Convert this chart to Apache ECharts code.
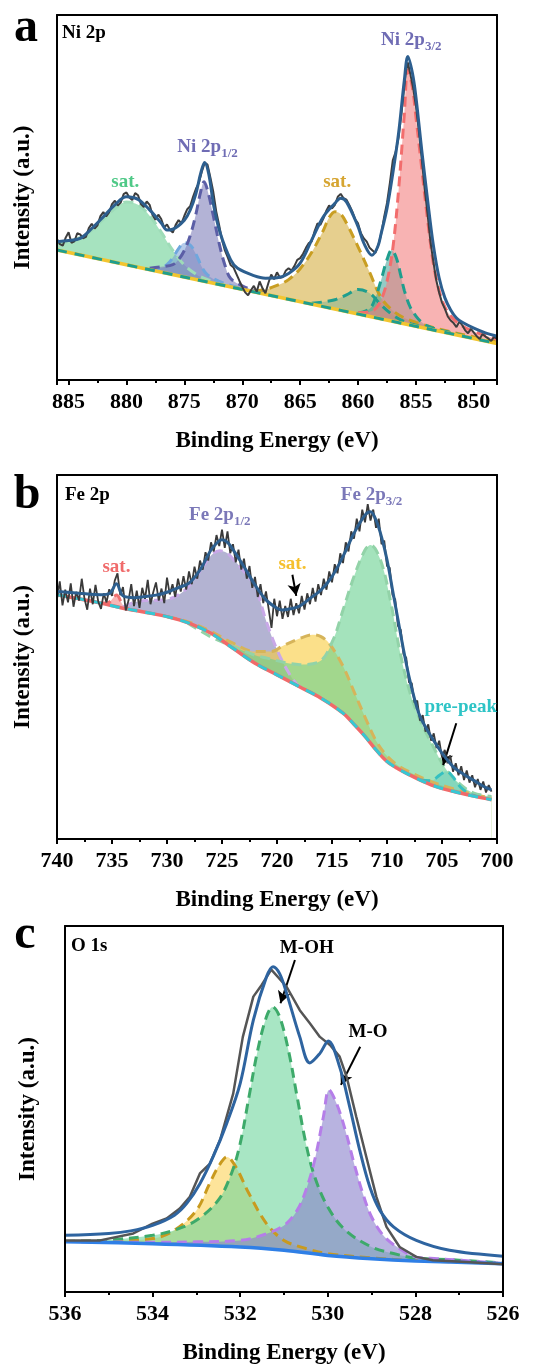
<!DOCTYPE html>
<html>
<head>
<meta charset="utf-8">
<script src="https://cdn.jsdelivr.net/npm/echarts@6/dist/echarts.min.js"></script>
<style>
  html, body { margin: 0; padding: 0; background: #fff; }
  #main { width: 538px; height: 1369px; }
</style>
</head>
<body>
<div id="main"></div>
<script>
var FONT = '"Liberation Serif", "Times New Roman", serif';

// ---------- a: Ni 2p ----------
var niBg = [[886, 35.6], [848, 10.0]];
var niSatGreen = [[886,37.4],[885,38.0],[884,39.0],[883,41.0],[882,44.0],[881,47.0],[880,48.8],[879,48.0],[878,45.0],[877,40.5],[876,35.5],[875,31.5],[874,29.0],[873,27.5],[872,26.5],[871,25.6],[870,24.9]];
var niBlue = [[878,30.3],[877,30.6],[876.5,31.6],[876,33.5],[875.5,36.0],[875,37.6],[874.5,37.0],[874,34.5],[873.5,31.0],[873,28.8],[872,27.0],[871,25.9],[870,25.0]];
var niP12 = [[878,30.6],[877,31.0],[876,31.6],[875.5,33.0],[875,35.5],[874.5,39.5],[874,45.5],[873.6,51.5],[873.3,54.3],[873,52.0],[872.5,45.0],[872,37.5],[871.5,31.5],[871,27.8],[870,25.8],[869,24.6],[868,23.8]];
var niSatGold = [[869,24.3],[868,24.8],[867,25.9],[866,27.5],[865,30.5],[864,35.0],[863,41.0],[862.5,44.5],[862,46.1],[861.5,45.5],[861,43.0],[860,36.5],[859,29.5],[858,22.5],[857,19.0],[856,17.0],[855,15.8],[854,14.8],[852,13.2],[850,11.8],[848,10.4]];
var niTealSmall = [[864,21.0],[863,21.4],[862,22.0],[861,23.3],[860,24.8],[859,23.8],[858,20.5],[857,17.8],[856,16.0],[855,15.0],[854,14.2]];
var niTeal = [[860,18.3],[859,19.5],[858.5,22.5],[858,27.5],[857.5,33.0],[857.1,35.6],[856.7,33.5],[856.3,28.5],[856,24.5],[855.5,20.0],[855,17.5],[854.5,15.8],[854,14.8],[853,13.7],[852,13.0],[851,12.2]];
var niP32 = [[860,18.4],[859,18.7],[858.5,19.5],[858,22.0],[857.5,27.0],[857,36.0],[856.5,52.0],[856,73.0],[855.7,85.0],[855.3,80.0],[855,72.0],[854.5,58.0],[854,44.0],[853.5,32.0],[853,24.5],[852.5,20.0],[852,17.5],[851,14.8],[850,13.3],[849,12.2],[848,11.2]];
var niEnv = [[886,37.9],[885,38.2],[884,38.8],[883,41.5],[882,44.7],[881,48.0],[880,50.2],[879,49.5],[878,46.6],[877,43.0],[876.5,41.1],[876,41.3],[875,43.8],[874.5,46.5],[874,51.1],[873.6,56.5],[873.25,59.6],[872.9,56.5],[872.45,47.5],[871.9,40.2],[871,32.9],[870.4,30.6],[869,28.6],[868,27.9],[867,28.0],[866,29.2],[865,32.0],[864,38.4],[863,44.7],[862,48.4],[861.5,49.8],[861,48.8],[860,42.0],[859.5,37.5],[858.8,34.2],[858.3,36.5],[858,40.2],[857.5,47.0],[857,56.6],[856.5,67.6],[856,82.2],[855.7,88.6],[855.3,84.0],[855,77.5],[854.5,63.0],[854,49.5],[853.5,37.0],[853,28.0],[852.5,22.5],[852,19.2],[851.5,17.0],[851,15.8],[850,14.2],[849,12.9],[848,12.0]];
var niRaw = [[886,38.6],[885.75,37.2],[885.5,36.8],[885.25,39.0],[885,40.5],[884.75,37.6],[884.5,38.0],[884.25,40.2],[884,39.9],[883.75,38.8],[883.5,39.2],[883.25,41.6],[883,42.8],[882.75,41.5],[882.5,42.4],[882.25,44.9],[882,46.0],[881.75,44.8],[881.5,45.9],[881.25,48.2],[881,49.1],[880.75,47.8],[880.5,48.6],[880.25,50.9],[880,51.4],[879.75,50.0],[879.5,49.3],[879.25,51.2],[879,50.6],[878.75,48.2],[878.5,47.4],[878.25,48.9],[878,48.0],[877.75,45.2],[877.5,43.9],[877.25,45.3],[877,44.1],[876.75,41.8],[876.5,42.6],[876.25,41.2],[876,40.4],[875.75,42.5],[875.5,43.8],[875.25,42.9],[875,45.0],[874.75,46.8],[874.5,47.6],[874.25,50.2],[874,52.4],[873.75,54.0],[873.5,57.0],[873.25,59.5],[873,59.0],[872.75,55.4],[872.5,51.5],[872.25,46.2],[872,42.5],[871.75,38.4],[871.5,35.5],[871.25,33.6],[871,31.5],[870.75,30.8],[870.5,29.0],[870.25,27.2],[870,25.5],[869.75,24.0],[869.5,23.2],[869.25,24.6],[869,25.8],[868.75,24.2],[868.5,27.0],[868.25,25.1],[868,23.8],[867.75,26.5],[867.5,28.9],[867.25,27.6],[867,29.5],[866.75,28.0],[866.5,28.2],[866.25,29.9],[866,30.6],[865.75,30.0],[865.5,31.2],[865.25,32.9],[865,33.4],[864.75,34.6],[864.5,36.2],[864.25,37.5],[864,38.0],[863.75,40.8],[863.5,42.9],[863.25,42.5],[863,44.2],[862.75,46.3],[862.5,47.8],[862.25,47.0],[862,48.0],[861.75,50.2],[861.5,51.0],[861.25,49.8],[861,49.4],[860.75,47.9],[860.5,46.2],[860.25,44.0],[860,42.9],[859.75,40.2],[859.5,38.8],[859.25,37.9],[859,36.2],[858.75,35.5],[858.5,34.8],[858.25,37.0],[858,40.0],[857.75,44.6],[857.5,48.5],[857.25,54.0],[857,60.2],[856.75,62.5],[856.5,66.5],[856.25,73.0],[856,80.5],[855.85,84.8],[855.7,87.0],[855.5,84.0],[855.25,80.2],[855,75.0],[854.75,68.2],[854.5,60.5],[854.25,52.5],[854,45.5],[853.75,38.0],[853.5,32.5],[853.25,27.4],[853,24.0],[852.75,21.2],[852.5,19.5],[852.25,17.4],[852,16.3],[851.75,15.6],[851.5,14.5],[851.25,16.0],[851,15.0],[850.75,13.6],[850.5,12.8],[850.25,14.0],[850,13.0],[849.75,12.0],[849.5,11.2],[849.25,12.6],[849,11.9],[848.75,11.4],[848.5,10.7],[848.25,11.8],[848,11.3]];

// ---------- b: Fe 2p ----------
var feBg = [[740,67.1],[738,66.0],[736,64.8],[734,63.4],[732,62.3],[730,61.1],[728,59.3],[726,56.5],[724,52.4],[722,48.3],[720,45.1],[718,41.9],[716,38.7],[714,34.6],[713,31.5],[712,28.2],[711,24.5],[710,21.3],[709,19.3],[708,17.7],[706,14.9],[704,13.1],[702,11.7],[700.5,10.8]];
var feSatRed = [[736,64.8],[735.3,65.0],[734.6,67.0],[734,64.2],[733.5,63.1]];
var feP12 = [[734,63.8],[733,65.0],[732,65.5],[731,65.6],[730,65.8],[729,67.0],[728.2,68.9],[727,73.5],[726,77.9],[725.2,79.2],[724.5,78.5],[724,76.9],[723,73.5],[722,69.5],[721,60.0],[720,52.0],[719,46.0],[718.2,42.5],[717.5,41.2]];
var feSatYellow = [[730,61.1],[728,59.6],[726,57.0],[724,53.8],[722,51.5],[720.5,51.5],[719.5,53.0],[718,55.0],[716.8,56.1],[716,55.6],[715.2,53.5],[714,47.5],[713,40.5],[712,33.5],[711,27.0],[710,22.8],[709,20.2],[708,18.5],[706,15.8],[704,13.8],[702,12.2],[700.5,11.2]];
var feP32 = [[728.1,59.3],[726,55.5],[724,52.9],[722,50.5],[720.9,49.7],[719,48.3],[717.9,47.9],[716.1,48.8],[714.9,54.7],[714,62.9],[713,72.1],[712,79.4],[711.5,80.8],[710.6,76.7],[709.7,65.7],[708.8,51.1],[707.9,40.1],[707,32.8],[705.8,25.4],[704.6,19.0],[703.3,14.9],[702.1,12.6],[700.5,11.7]];
var fePre = [[707,16.2],[706,16.0],[705.2,17.6],[704.6,18.6],[704,17.0],[703.3,14.2],[702.5,12.4],[701.5,11.5]];
var feEnv = [[740,68.0],[738,67.5],[736,67.1],[735.2,67.5],[734.6,70.1],[734,66.8],[733,66.3],[732,66.6],[731,67.0],[730,67.8],[729,69.0],[728,70.3],[727,73.9],[726,79.4],[725.3,81.8],[725,82.2],[724.5,81.5],[724,79.5],[723,74.8],[722,69.8],[721,65.7],[720,63.4],[719.5,62.9],[719,63.1],[718,63.9],[717,66.1],[716,68.4],[715,72.1],[714,77.6],[713,84.0],[712,89.0],[711.5,89.9],[711,87.6],[710.5,83.0],[710,76.7],[709.5,68.5],[709,60.2],[708.5,52.0],[708,44.6],[707.5,38.5],[707,33.7],[706,28.2],[705,23.6],[704,19.9],[703,17.7],[702,15.9],[701,14.1],[700.5,13.5]];
var feRaw = [[740,66.0],[739.75,70.8],[739.5,64.2],[739.25,68.5],[739,65.0],[738.75,70.2],[738.5,63.8],[738.25,67.9],[738,65.5],[737.75,71.5],[737.5,66.0],[737.25,63.0],[737,68.8],[736.75,64.5],[736.5,69.8],[736.25,65.2],[736,63.2],[735.75,67.5],[735.5,65.0],[735.25,68.6],[735,66.8],[734.75,71.0],[734.5,73.0],[734.25,67.0],[734,69.2],[733.75,62.8],[733.5,65.5],[733.25,70.0],[733,64.0],[732.75,68.2],[732.5,63.5],[732.25,69.0],[732,66.0],[731.75,71.2],[731.5,64.5],[731.25,67.8],[731,70.5],[730.75,65.5],[730.5,68.8],[730.25,64.8],[730,71.8],[729.75,67.2],[729.5,70.0],[729.25,66.5],[729,71.5],[728.75,68.0],[728.5,72.2],[728.25,68.5],[728,73.5],[727.75,70.0],[727.5,74.8],[727.25,71.5],[727,76.5],[726.75,74.0],[726.5,78.8],[726.25,76.5],[726,81.5],[725.75,79.0],[725.5,83.5],[725.25,80.5],[725,85.0],[724.75,80.0],[724.5,84.5],[724.25,78.5],[724,81.0],[723.75,76.0],[723.5,79.5],[723.25,74.0],[723,77.0],[722.75,71.5],[722.5,75.0],[722.25,69.0],[722,72.0],[721.75,66.5],[721.5,70.0],[721.25,64.8],[721,68.0],[720.75,63.0],[720.5,58.0],[720.25,66.0],[720,61.2],[719.75,65.5],[719.5,60.5],[719.25,64.0],[719,61.0],[718.75,66.0],[718.5,61.5],[718.25,64.8],[718,62.0],[717.75,66.8],[717.5,63.0],[717.25,67.5],[717,64.5],[716.75,69.0],[716.5,65.2],[716.25,70.0],[716,67.0],[715.75,71.5],[715.5,68.5],[715.25,73.5],[715,70.5],[714.75,75.5],[714.5,73.0],[714.25,78.5],[714,75.8],[713.75,81.5],[713.5,79.0],[713.25,84.5],[713,82.5],[712.75,88.0],[712.5,84.5],[712.25,90.5],[712,87.0],[711.75,92.0],[711.5,87.5],[711.25,90.5],[711,85.5],[710.75,88.0],[710.5,81.0],[710.25,82.0],[710,75.0],[709.75,74.5],[709.5,67.0],[709.25,65.8],[709,58.5],[708.75,57.5],[708.5,50.8],[708.25,49.8],[708,43.0],[707.75,42.8],[707.5,37.5],[707.25,38.0],[707,32.5],[706.75,34.0],[706.5,29.5],[706.25,31.5],[706,27.0],[705.75,29.0],[705.5,25.0],[705.25,27.0],[705,22.5],[704.75,24.5],[704.5,20.8],[704.25,23.0],[704,18.5],[703.75,20.8],[703.5,17.5],[703.25,20.0],[703,16.2],[702.75,18.8],[702.5,15.5],[702.25,17.5],[702,14.2],[701.75,16.5],[701.5,13.5],[701.25,15.8],[701,12.8],[700.75,14.8],[700.5,13.0]];

// ---------- c: O 1s ----------
var oBg = [[536,13.7],[534,13.2],[532,12.3],[531,11.4],[530,10.0],[529,9.1],[528,8.5],[526,7.7]];
var oYellow = [[536,13.8],[535,14.0],[534,14.6],[533.5,16.9],[533,22.3],[532.7,29.6],[532.5,34.2],[532.3,36.9],[532.1,34.2],[531.8,26.9],[531.4,18.7],[531,14.1],[530.5,11.9],[530,10.5],[529,9.3],[528,8.6],[526,7.8]];
var oGreen = [[536,13.8],[535,14.2],[534,15.5],[533.5,16.9],[533,19.6],[532.5,25.1],[532.2,32.4],[532,40.6],[531.8,53.3],[531.6,66.1],[531.4,75.2],[531.26,77.9],[531.1,75.2],[530.9,66.1],[530.7,53.3],[530.5,40.6],[530.3,31.5],[530,23.2],[529.6,16.9],[529,12.3],[528.5,10.5],[528,9.3],[527,8.7],[526,7.9]];
var oPurple = [[536,13.8],[534,13.6],[533,13.7],[532,14.1],[531.5,15.5],[531,18.2],[530.7,22.3],[530.5,27.8],[530.3,36.0],[530.1,47.9],[529.97,55.2],[529.8,51.5],[529.6,44.2],[529.4,35.1],[529.2,26.9],[529,20.5],[528.7,15.0],[528.3,11.4],[528,9.6],[527.5,9.1],[527,8.7],[526,7.8]];
var oEnv = [[536,15.5],[535,16.0],[534.5,16.7],[534,18.2],[533.5,21.0],[533.22,24.2],[532.92,29.6],[532.62,36.9],[532.31,46.0],[532.0,57.0],[531.7,74.3],[531.4,86.1],[531.25,88.9],[531.1,87.0],[530.94,81.6],[530.64,69.7],[530.41,62.6],[530.18,65.2],[529.99,68.6],[529.73,61.5],[529.5,50.6],[529.27,38.7],[529.04,28.7],[528.81,22.3],[528.5,17.8],[527.98,14.1],[527.22,11.4],[526,9.8]];
var oRaw = [[536,14.1],[535.2,14.1],[534.44,16.0],[534.0,18.7],[533.68,20.1],[533.38,22.8],[533.15,26.0],[532.92,32.4],[532.69,35.1],[532.46,41.5],[532.16,54.2],[531.94,69.7],[531.7,80.7],[531.51,83.9],[531.29,88.1],[530.94,83.4],[530.64,77.0],[530.41,73.4],[530.18,69.7],[529.95,67.5],[529.73,64.3],[529.57,58.8],[529.35,47.9],[529.12,36.9],[528.89,26.0],[528.66,17.8],[528.36,12.3],[527.98,9.6],[527.6,8.7],[526.84,8.2],[526,7.6]];

var panels = [
  { grid: { left: 57, top: 15, width: 440, height: 365 }, range: [848, 886], step: 5, hideEnds: true, nameGap: 22,
    bg: niBg, bgSmooth: false, bgColor: '#f2c530', bgDash: '#1f9e8e',
    comps: [
      [niSatGreen, 'rgba(107,208,148,0.6)', '#9edcb8'],
      [niBlue, 'rgba(120,160,215,0.55)', '#6fa7dd'],
      [niP12, 'rgba(128,128,187,0.6)', '#5b5ea6'],
      [niSatGold, 'rgba(213,175,67,0.6)', '#c99e22'],
      [niTealSmall, 'rgba(60,160,150,0.3)', '#1f9e8e'],
      [niTeal, 'rgba(60,160,150,0.55)', '#1f9e8e'],
      [niP32, 'rgba(243,128,128,0.6)', '#f26d6d']
    ],
    raw: niRaw, rawColor: '#3d3d3d', rawWidth: 2, env: niEnv, envColor: '#2d5f8f',
    arrows: [],
    notes: [
      { t: 'sat.', at: [880.1, 54.2], c: '#4fc987' },
      { t: 'Ni 2p', s: '1/2', at: [873.0, 63.9], c: '#6f6cb4' },
      { t: 'sat.', at: [861.8, 54.3], c: '#d6a531' },
      { t: 'Ni 2p', s: '3/2', at: [855.4, 93.2], c: '#6f6cb4' }
    ] },
  { grid: { left: 57, top: 475, width: 440, height: 364 }, range: [700, 740], step: 5, hideEnds: false, nameGap: 22,
    bg: feBg, bgSmooth: true, bgColor: '#f06a6a', bgDash: '#35c8d4',
    comps: [
      [feSatRed, 'rgba(240,110,110,0.5)', '#f07070'],
      [feP12, 'rgba(128,128,180,0.6)', '#c9a8e8'],
      [feSatYellow, 'rgba(248,204,60,0.6)', '#d6b45a'],
      [feP32, 'rgba(103,208,144,0.6)', '#92d3a8'],
      [fePre, 'rgba(60,190,190,0.3)', '#35c0c0']
    ],
    raw: feRaw, rawColor: '#3a3a3a', rawWidth: 1.8, env: feEnv, envColor: '#2d5f8f',
    arrows: [[[718.6, 72.6], [718.25, 66.8]], [[703.7, 31.8], [704.9, 20.3]]],
    notes: [
      { t: 'sat.', at: [734.6, 74.8], c: '#f06b6b' },
      { t: 'Fe 2p', s: '1/2', at: [725.2, 89.0], c: '#7b78b8' },
      { t: 'sat.', at: [718.6, 75.5], c: '#f5c02e' },
      { t: 'Fe 2p', s: '3/2', at: [711.4, 94.5], c: '#7b78b8' },
      { t: 'pre-peak', at: [703.3, 36.3], c: '#2ec4c6' }
    ] },
  { grid: { left: 65, top: 926, width: 438, height: 366 }, range: [526, 536], step: 2, hideEnds: false, nameGap: 25,
    bg: oBg, bgSmooth: true, bgColor: '#2f7fe6', bgDash: null,
    comps: [
      [oYellow, 'rgba(252,210,87,0.6)', '#c99a1e'],
      [oGreen, 'rgba(110,214,157,0.6)', '#3daa6a'],
      [oPurple, 'rgba(137,128,203,0.6)', '#b57ee8']
    ],
    raw: oRaw, rawColor: '#555555', rawWidth: 2.5, env: oEnv, envColor: '#2e64a0',
    arrows: [[[530.75, 90.7], [531.08, 78.9]], [[529.26, 67.0], [529.7, 56.6]]],
    notes: [
      { t: 'M-OH', at: [530.48, 93.9], c: '#000' },
      { t: 'M-O', at: [529.08, 71.1], c: '#000' }
    ] }
];

var grids = [], xAxes = [], yAxes = [], series = [];
var boldText = { fontFamily: FONT, fontWeight: 'bold', color: '#000' };

panels.forEach(function (p, g) {
  grids.push(p.grid);
  var frame = { show: true, onZero: false, lineStyle: { color: '#000', width: 2 } };
  xAxes.push({
    gridIndex: g, type: 'value', min: p.range[0], max: p.range[1], inverse: true,
    minInterval: p.step, maxInterval: p.step, splitNumber: 8, z: 10,
    axisLine: frame,
    axisTick: { show: true, inside: false, length: 5, lineStyle: { color: '#000', width: 2 } },
    minorTick: { show: true, splitNumber: 2, length: 3, lineStyle: { color: '#000', width: 2 } },
    axisLabel: Object.assign({ fontSize: 22, margin: 11, showMinLabel: !p.hideEnds, showMaxLabel: !p.hideEnds }, boldText),
    splitLine: { show: false },
    name: 'Binding Energy (eV)', nameLocation: 'middle', nameGap: 50,
    nameTextStyle: Object.assign({ fontSize: 23 }, boldText)
  });
  xAxes.push({
    gridIndex: g, type: 'value', position: 'top', min: p.range[0], max: p.range[1], inverse: true, z: 10,
    axisLine: frame, axisTick: { show: false }, axisLabel: { show: false }, splitLine: { show: false }
  });
  yAxes.push({
    gridIndex: g, type: 'value', min: 0, max: 100, z: 10,
    axisLine: frame, axisTick: { show: false }, axisLabel: { show: false }, splitLine: { show: false },
    name: 'Intensity (a.u.)', nameLocation: 'middle', nameGap: p.nameGap,
    nameTextStyle: Object.assign({ fontSize: 23 }, boldText)
  });
  yAxes.push({
    gridIndex: g, type: 'value', position: 'right', min: 0, max: 100, z: 10,
    axisLine: frame, axisTick: { show: false }, axisLabel: { show: false }, splitLine: { show: false }
  });

  var ax = { xAxisIndex: 2 * g, yAxisIndex: 2 * g, symbol: 'none', silent: true };
  function line(extra) { return Object.assign({ type: 'line' }, ax, extra); }

  // component fills
  p.comps.forEach(function (c) {
    series.push(line({ data: c[0], smooth: 0.35, z: 2, lineStyle: { width: 0 }, areaStyle: { color: c[1], opacity: 1 } }));
  });
  // white mask below the background line
  series.push(line({ data: p.bg, smooth: p.bgSmooth ? 0.35 : false, z: 3, lineStyle: { width: 0 }, areaStyle: { color: '#fff', opacity: 1 } }));
  // dashed component edges
  p.comps.forEach(function (c) {
    series.push(line({ data: c[0], smooth: 0.35, z: 4, lineStyle: { color: c[2], width: 3, type: [10, 6] } }));
  });
  // background
  series.push(line({ data: p.bg, smooth: p.bgSmooth ? 0.35 : false, z: 5, lineStyle: { color: p.bgColor, width: 3.5 } }));
  if (p.bgDash) {
    series.push(line({ data: p.bg, smooth: p.bgSmooth ? 0.35 : false, z: 5, lineStyle: { color: p.bgDash, width: 3, type: [10, 8] } }));
  }
  // raw data + arrows
  series.push(line({
    data: p.raw, smooth: false, z: 6, lineStyle: { color: p.rawColor, width: p.rawWidth },
    markLine: {
      silent: true, symbol: ['none', 'arrow'], symbolSize: [10, 12], animation: false,
      label: { show: false }, lineStyle: { color: '#000', width: 2, type: 'solid' },
      data: p.arrows.map(function (a) { return [{ coord: a[0] }, { coord: a[1] }]; })
    }
  }));
  // envelope
  series.push(line({ data: p.env, smooth: 0.35, z: 7, lineStyle: { color: p.envColor, width: 3 } }));
});

var chart = echarts.init(document.getElementById('main'), null, { renderer: 'canvas' });
chart.setOption({
  animation: false,
  backgroundColor: '#fff',
  grid: grids.map(function (gr) { return Object.assign({ outerBoundsMode: 'none', containLabel: false }, gr); }),
  xAxis: xAxes,
  yAxis: yAxes,
  series: series
});

// annotations in data coordinates
var graphics = [];
function txt(x, y, style) {
  graphics.push({ type: 'text', x: x, y: y, z: 100, silent: true, style: style });
}
panels.forEach(function (p, g) {
  p.notes.forEach(function (n) {
    var pt = chart.convertToPixel({ xAxisIndex: 2 * g, yAxisIndex: 2 * g }, n.at);
    var rich = {
      m: { fontFamily: FONT, fontWeight: 'bold', fontSize: 19, fill: n.c, lineHeight: 26, verticalAlign: 'middle' },
      s: { fontFamily: FONT, fontWeight: 'bold', fontSize: 13, fill: n.c, lineHeight: 13, verticalAlign: 'bottom' }
    };
    txt(pt[0], pt[1], {
      text: '{m|' + n.t + '}' + (n.s ? '{s|' + n.s + '}' : ''),
      rich: rich, align: 'center', verticalAlign: 'middle'
    });
  });
});
var letters = [['a', 26, 29], ['b', 27, 496], ['c', 25, 936]];
letters.forEach(function (l) {
  txt(l[1], l[2], { text: l[0], fill: '#000', font: 'bold 48px ' + FONT, align: 'center', verticalAlign: 'middle' });
});
var titles = [['Ni 2p', 62, 33], ['Fe 2p', 65, 495], ['O 1s', 71, 946]];
titles.forEach(function (t) {
  txt(t[1], t[2], { text: t[0], fill: '#000', font: 'bold 19px ' + FONT, align: 'left', verticalAlign: 'middle' });
});
chart.setOption({ graphic: graphics });
</script>
</body>
</html>
